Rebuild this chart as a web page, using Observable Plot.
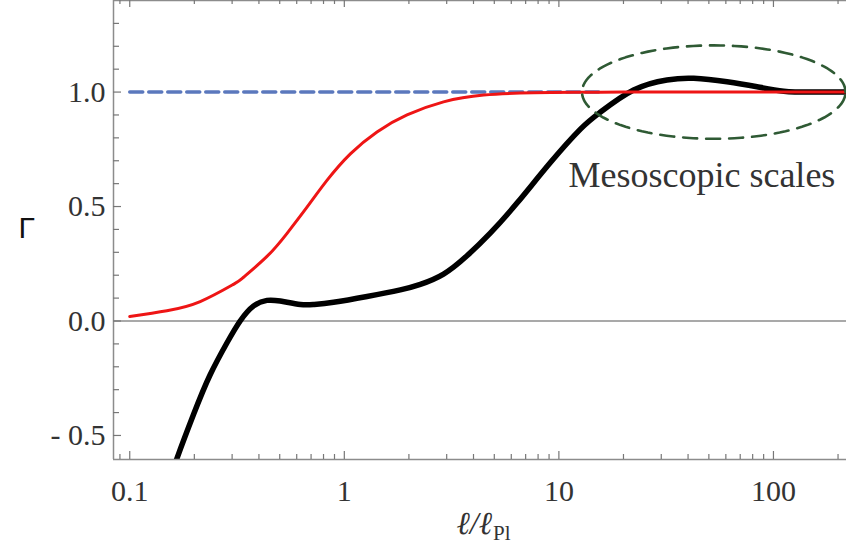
<!DOCTYPE html>
<html>
<head>
<meta charset="utf-8">
<script src="https://cdn.jsdelivr.net/npm/d3@7"></script>
<script src="https://cdn.jsdelivr.net/npm/@observablehq/plot@0.6"></script>
<style>
  html, body { margin: 0; padding: 0; background: #fff; }
</style>
</head>
<body>
<div id="chart"></div>
<script>
// Red curve (smooth sigmoid)
const redX = [0.1, 0.149, 0.213, 0.304, 0.338, 0.436, 0.541, 0.670, 0.830, 1.067, 1.42, 1.96, 2.90, 4.46, 7.61, 12, 20, 40, 219];
const redY = [0.02, 0.045, 0.085, 0.160, 0.19, 0.282, 0.383, 0.497, 0.614, 0.73, 0.826, 0.90, 0.957, 0.987, 0.997, 0.999, 1.0, 1.0, 1.0];

// Black curve (thick)
const blackX = [0.158, 0.166, 0.198, 0.237, 0.284, 0.327, 0.378, 0.436, 0.503, 0.624, 0.719, 0.891, 1.276, 1.824, 2.26, 2.90, 3.73, 4.80, 6.38, 9.13, 12.6, 15.6, 22.3, 31.9, 42.5, 60.8, 83.9, 111.7, 150, 219];
const blackY = [-0.66, -0.60, -0.41, -0.235, -0.095, 0.0, 0.066, 0.090, 0.087, 0.072, 0.072, 0.082, 0.107, 0.136, 0.160, 0.205, 0.285, 0.385, 0.515, 0.692, 0.838, 0.912, 1.009, 1.053, 1.06, 1.045, 1.023, 1.004, 1.0, 1.0];

// Blue dashed reference line
const blueX = [0.1, 16];
const blueY = [1.0, 1.0];

// Axis domains and ticks
const xDomain = [0.084, 219];
const yDomain = [-0.605, 1.40];
const xTickValues = [0.1, 1, 10, 100];
const xTickLabels = ["0.1", "1", "10", "100"];
const xMinorTicks = [0.09, 0.2, 0.3, 0.4, 0.5, 0.6, 0.7, 0.8, 0.9, 2, 3, 4, 5, 6, 7, 8, 9, 20, 30, 40, 50, 60, 70, 80, 90, 200];
const yTickValues = [-0.5, 0.0, 0.5, 1.0];
const yTickLabels = ["- 0.5", "0.0", "0.5", "1.0"];
const yMinorTicks = [-0.4, -0.3, -0.2, -0.1, 0.1, 0.2, 0.3, 0.4, 0.6, 0.7, 0.8, 0.9, 1.1, 1.2, 1.3];

// Annotation: dashed ellipse (center in data units, radii in decades / y units) and label
const ellipseCenter = [52.7, 1.0];
const ellipseRadii = [0.614, 0.204];
const annotations = [{label: "Mesoscopic scales", x: 11.08, y: 0.585}];

const W = 846, H = 558;
const mL = 113, mR = 0, mT = 0, mB = 99;
const frameW = W - mL - mR, frameH = H - mT - mB;

const red = redX.map((x, i) => ({x, y: redY[i]}));
const black = blackX.map((x, i) => ({x, y: blackY[i]}));
const blue = blueX.map((x, i) => ({x, y: blueY[i]}));
const ellipse = d3.range(0, 121).map(k => {
  const t = (k / 120) * 2 * Math.PI;
  return {
    x: Math.pow(10, Math.log10(ellipseCenter[0]) + ellipseRadii[0] * Math.cos(t)),
    y: ellipseCenter[1] + ellipseRadii[1] * Math.sin(t)
  };
});

const serif = "'Liberation Serif', 'Times New Roman', 'DejaVu Serif', serif";
const axisGray = "#8c8c8c";

const chart = Plot.plot({
  width: W,
  height: H,
  marginLeft: mL,
  marginRight: mR,
  marginTop: mT,
  marginBottom: mB,
  style: {background: "#fff", fontFamily: serif},
  x: {type: "log", domain: xDomain, label: null, axis: null},
  y: {domain: yDomain, label: null, axis: null},
  marks: [
    Plot.ruleY([0], {stroke: "#555", strokeWidth: 1.2}),
    Plot.line(blue, {x: "x", y: "y", stroke: "#5b78bd", strokeWidth: 3.5, strokeDasharray: "13,6"}),
    Plot.line(black, {x: "x", y: "y", stroke: "#000", strokeWidth: 5.5, curve: "natural", clip: true}),
    Plot.line(red, {x: "x", y: "y", stroke: "#ee1515", strokeWidth: 3, curve: "natural"}),
    Plot.line(ellipse, {x: "x", y: "y", stroke: "#2f5a34", strokeWidth: 2.6, strokeDasharray: "14,9", clip: true}),
    Plot.text(annotations, {x: "x", y: "y", text: "label", textAnchor: "start", lineAnchor: "bottom", fontSize: 36, fill: "#333", fontFamily: serif}),
    // frame: left, bottom, top (right side is cut off in the original)
    Plot.ruleX([xDomain[0]], {stroke: axisGray, strokeWidth: 1.5}),
    Plot.ruleY(yDomain, {stroke: axisGray, strokeWidth: 1.5}),
    // inward ticks: bottom
    Plot.tickX(xTickValues, {x: d => d, insetTop: frameH - 8, stroke: "#777", strokeWidth: 1.2}),
    Plot.tickX(xMinorTicks, {x: d => d, insetTop: frameH - 5, stroke: "#777", strokeWidth: 1.2}),
    // inward ticks: top
    Plot.tickX(xTickValues, {x: d => d, insetBottom: frameH - 7, stroke: "#777", strokeWidth: 1.2}),
    Plot.tickX(xMinorTicks, {x: d => d, insetBottom: frameH - 4, stroke: "#777", strokeWidth: 1.2}),
    // inward ticks: left
    Plot.tickY(yTickValues, {y: d => d, insetRight: frameW - 8, stroke: "#777", strokeWidth: 1.2}),
    Plot.tickY(yMinorTicks, {y: d => d, insetRight: frameW - 6, stroke: "#777", strokeWidth: 1.2}),
    // tick labels
    Plot.text(yTickValues, {
      y: d => d, frameAnchor: "left", dx: -8, textAnchor: "end", fontSize: 30, fill: "#333", fontFamily: serif,
      text: d => yTickLabels[yTickValues.indexOf(d)]
    }),
    Plot.text(xTickValues, {
      x: d => d, frameAnchor: "bottom", dy: 20, lineAnchor: "top", fontSize: 30, fill: "#333", fontFamily: serif,
      text: d => xTickLabels[xTickValues.indexOf(d)]
    }),
    Plot.text(["Γ"], {frameAnchor: "left", dx: -95, dy: -2, fontSize: 30, fill: "#111", fontFamily: "'Liberation Sans', Arial, sans-serif"}),
    Plot.text(["ℓ/ℓ"], {frameAnchor: "bottom", dx: 12, dy: 74, textAnchor: "end", lineAnchor: "bottom", fontSize: 32, fontStyle: "italic", fill: "#333", fontFamily: serif}),
    Plot.text(["Pl"], {frameAnchor: "bottom", dx: 13, dy: 80, textAnchor: "start", lineAnchor: "bottom", fontSize: 21, fill: "#333", fontFamily: serif})
  ]
});

document.getElementById("chart").appendChild(chart);
</script>
</body>
</html>
